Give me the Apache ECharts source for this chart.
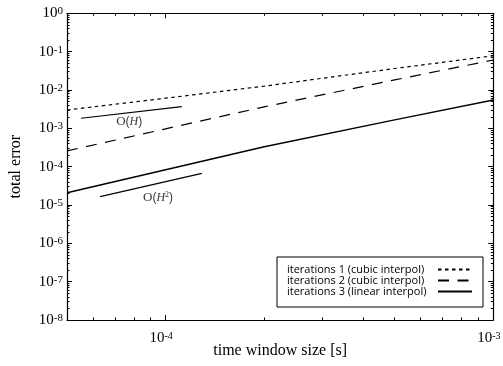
<!DOCTYPE html>
<html><head><meta charset="utf-8">
<script src="https://cdn.jsdelivr.net/npm/echarts@6/dist/echarts.min.js"></script>
<style>html,body{margin:0;padding:0;background:#fff}#c{width:503px;height:366px}</style>
</head><body><div id="c"></div>
<script>
// ---- data ----
const timeWindow = [5e-5, 1e-4, 2e-4, 5e-4, 1e-3];
const iter1Cubic = [3.0e-3, 6.1e-3, 1.26e-2, 3.63e-2, 7.8e-2];
const iter2Cubic = [2.57e-4, 9.7e-4, 3.64e-3, 1.83e-2, 6.05e-2];
const iter3Linear = [2.09e-5, 8.3e-5, 3.3e-4, 1.66e-3, 5.48e-3];
const slopeHx = [5.52e-5, 1.12e-4];
const slopeHy = [1.83e-3, 3.66e-3];
const slopeH2x = [6.31e-5, 1.29e-4];
const slopeH2y = [1.65e-5, 6.71e-5];
const slopeLabelText = ['{o|O}({h|H})', '{o|O}({h|H}{s|2})'];
const slopeLabelPos = [[7.74e-5, 1.46e-3], [9.48e-5, 1.57e-5]];
const seriesNames = ['iterations 1 (cubic interpol)', 'iterations 2 (cubic interpol)', 'iterations 3 (linear interpol)'];
const xRange = [5e-5, 1e-3];
const yRange = [1e-8, 1];
const xMajorTicks = [1e-4, 1e-3];
const yMajorTicks = [1e-8, 1e-7, 1e-6, 1e-5, 1e-4, 1e-3, 1e-2, 1e-1, 1];
const xTitle = 'time window size [s]';
const yTitle = 'total error';

// minor tick positions at 2..9 x each decade
function minorTicks(lo, hi) {
  const out = [];
  for (let d = Math.floor(Math.log10(lo)); d < Math.ceil(Math.log10(hi)); d++) {
    for (let k = 2; k <= 9; k++) {
      const v = parseFloat((k * Math.pow(10, d)).toPrecision(6));
      if (v > lo * 1.0001 && v < hi * 0.9999) out.push(v);
    }
  }
  return out;
}
const xMinor = minorTicks(xRange[0], xRange[1]);
const yMinor = minorTicks(yRange[0], yRange[1]);

const zip = (xs, ys) => xs.map((x, i) => [x, ys[i]]);
const serif = 'Liberation Serif';
const richY = {
  b: {fontFamily: serif, fontSize: 15, color: '#000'},
  s: {fontFamily: serif, fontSize: 11, color: '#000', verticalAlign: 'top'}
};
const richX = {
  b: {fontFamily: serif, fontSize: 15, color: '#000'},
  s: {fontFamily: serif, fontSize: 10, color: '#000', verticalAlign: 'top', padding: [0, 9, 0, 0]}
};
function expLabel(v) {
  const e = Math.log10(v), r = Math.round(e);
  if (Math.abs(e - r) > 1e-6) return '';
  return '{b|10}{s|' + r + '}';
}
const axisLineOn = {show: true, lineStyle: {color: '#000', width: 1.2}};
const none = {show: false};

function axis(gridIndex, pos, range, ticks, len, lineOn, label, extra) {
  return Object.assign({
    type: 'log', logBase: 10, gridIndex: gridIndex, min: range[0], max: range[1], position: pos,
    axisLine: lineOn ? axisLineOn : none, splitLine: none, minorTick: none,
    axisTick: {show: true, inside: true, length: len, customValues: ticks, lineStyle: {color: '#000', width: 1}},
    axisLabel: label || none
  }, extra || {});
}

const lineBase = {type: 'line', xAxisIndex: 0, yAxisIndex: 0, symbol: 'none', showSymbol: false, silent: true};
const gridRect = {left: 67, right: 9.7, top: 13.3, bottom: 46, containLabel: false, outerBoundsMode: 'none'};

const option = {
  animation: false,
  backgroundColor: '#fff',
  grid: [Object.assign({}, gridRect), Object.assign({}, gridRect)],
  xAxis: [
    axis(0, 'bottom', xRange, xMajorTicks, 5, true,
      {show: true, customValues: xMajorTicks, formatter: expLabel, rich: richX, margin: 11},
      {name: xTitle, nameLocation: 'middle', nameGap: 23, nameMoveOverlap: false,
       nameTextStyle: {fontFamily: serif, fontSize: 16, color: '#000'}}),
    axis(0, 'top', xRange, xMajorTicks, 5, true, null),
    axis(1, 'bottom', xRange, xMinor, 2.5, false, null),
    axis(1, 'top', xRange, xMinor, 2.5, false, null)
  ],
  yAxis: [
    axis(0, 'left', yRange, yMajorTicks, 5, true,
      {show: true, customValues: yMajorTicks, formatter: expLabel, rich: richY, margin: 4},
      {name: yTitle, nameLocation: 'middle', nameGap: 43, nameRotate: 90, nameMoveOverlap: false,
       nameTextStyle: {fontFamily: serif, fontSize: 16, color: '#000'}}),
    axis(0, 'right', yRange, yMajorTicks, 5, true, null),
    axis(1, 'left', yRange, yMinor, 2.5, false, null),
    axis(1, 'right', yRange, yMinor, 2.5, false, null)
  ],
  legend: {
    data: seriesNames, orient: 'vertical', left: 277, top: 257, align: 'right',
    itemWidth: 34, itemHeight: 11, itemGap: 0, padding: [7, 10, 10, 10],
    borderColor: '#000', borderWidth: 1, selectedMode: false,
    itemStyle: {opacity: 0},
    formatter: (name) => '{a|' + name + '}',
    textStyle: {fontFamily: 'Open Sans', fontSize: 11, color: '#000', lineHeight: 11,
      rich: {a: {fontFamily: 'Open Sans', fontSize: 11, color: '#000', width: 146, align: 'left', lineHeight: 11}}}
  },
  series: [
    Object.assign({}, lineBase, {name: seriesNames[0], data: zip(timeWindow, iter1Cubic),
      lineStyle: {color: '#000', width: 1.2, type: [3.5, 3.5]}}),
    Object.assign({}, lineBase, {name: seriesNames[1], data: zip(timeWindow, iter2Cubic),
      lineStyle: {color: '#000', width: 1.2, type: [11, 8.5]}}),
    Object.assign({}, lineBase, {name: seriesNames[2], data: zip(timeWindow, iter3Linear),
      lineStyle: {color: '#000', width: 1.4, type: 'solid'}}),
    Object.assign({}, lineBase, {name: 'slopeH', data: zip(slopeHx, slopeHy),
      lineStyle: {color: '#000', width: 1.2}}),
    Object.assign({}, lineBase, {name: 'slopeH2', data: zip(slopeH2x, slopeH2y),
      lineStyle: {color: '#000', width: 1.2}}),
    {
      type: 'scatter', name: 'slopeLabels', xAxisIndex: 0, yAxisIndex: 0, symbolSize: 0, silent: true,
      data: slopeLabelPos,
      label: {
        show: true, position: 'inside', color: '#000',
        formatter: (p) => slopeLabelText[p.dataIndex],
        rich: {
          o: {fontFamily: serif, fontSize: 13, color: '#000'},
          h: {fontFamily: serif, fontSize: 12, fontStyle: 'italic', color: '#000'},
          s: {fontFamily: serif, fontSize: 8, color: '#000', verticalAlign: 'top'}
        }
      }
    },
    // invisible carrier so the minor-tick grid has a series on its axes
    {type: 'line', xAxisIndex: 2, yAxisIndex: 2, symbol: 'none', silent: true,
     data: [[xRange[0], yRange[1]]], lineStyle: {opacity: 0}}
  ]
};
const chart = echarts.init(document.getElementById('c'), null, {renderer: 'canvas'});
chart.setOption(option);
</script>
</body></html>
